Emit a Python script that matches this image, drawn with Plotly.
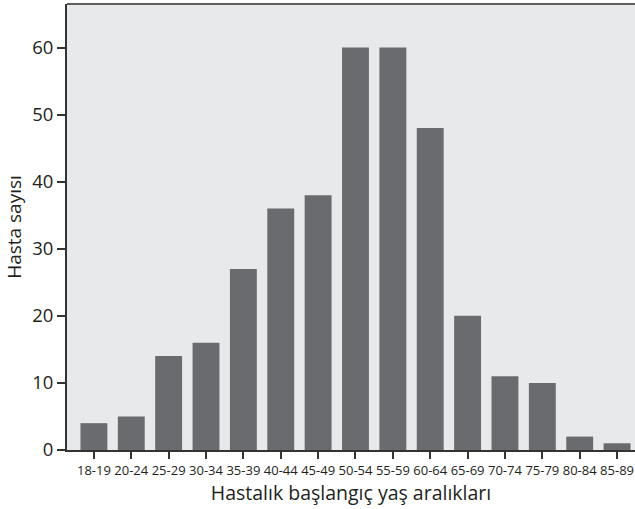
import plotly.graph_objects as go

# Age-at-onset groups and number of patients in each
age_groups = ["18-19", "20-24", "25-29", "30-34", "35-39", "40-44", "45-49", "50-54",
              "55-59", "60-64", "65-69", "70-74", "75-79", "80-84", "85-89"]
patients = [4, 5, 14, 16, 27, 36, 38, 60, 60, 48, 20, 11, 10, 2, 1]
y_ticks = [0, 10, 20, 30, 40, 50, 60]

FONT = "Open Sans"

fig = go.Figure(
    go.Bar(
        x=age_groups,
        y=patients,
        marker=dict(color="#6a6b6f", line=dict(width=0)),
        hoverinfo="x+y",
    )
)

fig.update_layout(
    width=635,
    height=509,
    margin=dict(l=67, r=0, t=4, b=59),
    paper_bgcolor="white",
    plot_bgcolor="#e8e9eb",
    bargap=0.28,
    showlegend=False,
    font=dict(family=FONT, color="#231f20"),
    xaxis=dict(
        type="category",
        range=[-0.72, 14.48],
        showgrid=False,
        showline=True,
        linecolor="#333333",
        linewidth=2,
        ticks="outside",
        ticklen=7,
        tickwidth=1.5,
        tickcolor="#333333",
        tickfont=dict(family=FONT, size=13, color="#231f20"),
        title=dict(text="Hastalık başlangıç yaş aralıkları",
                   font=dict(family=FONT, size=19.5, color="#231f20"),
                   standoff=7),
        zeroline=False,
    ),
    yaxis=dict(
        range=[0, 66.5],
        tickvals=y_ticks,
        showgrid=False,
        showline=True,
        linecolor="#333333",
        linewidth=2,
        ticks="outside",
        ticklen=8,
        tickwidth=1.5,
        tickcolor="#333333",
        tickfont=dict(family=FONT, size=18.5, color="#231f20"),
        title=dict(text="Hasta sayısı",
                   font=dict(family=FONT, size=19, color="#231f20"),
                   standoff=5),
        zeroline=False,
    ),
    shapes=[
        dict(type="line", xref="paper", yref="paper", x0=0, x1=1, y0=1, y1=1,
             line=dict(color="#5e5e5e", width=2)),
    ],
)

fig.write_html("out.html")
